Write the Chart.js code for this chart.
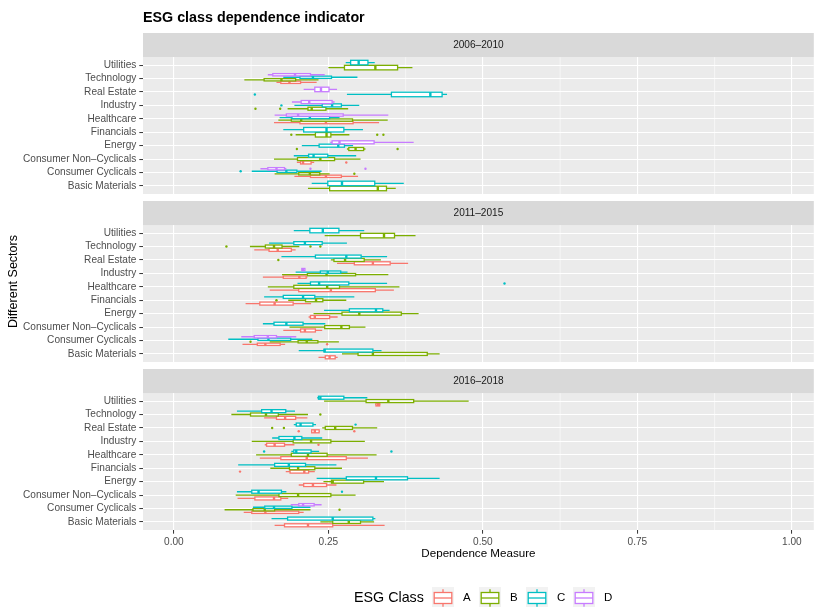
<!DOCTYPE html>
<html>
<head>
<meta charset="utf-8">
<title>ESG class dependence indicator</title>
<script src="https://cdn.jsdelivr.net/npm/chart.js@4.4.1/dist/chart.umd.min.js"></script>
<style>
  html, body { margin: 0; padding: 0; background: #fff; }
  #wrap { width: 815px; height: 607px; }
</style>
</head>
<body>
<div id="wrap"><canvas id="esgChart" width="815" height="607"></canvas></div>
<script>
// categories, bottom to top
const sectors = ['Basic Materials', 'Consumer Cyclicals', 'Consumer Non\u2013Cyclicals', 'Energy', 'Financials',
  'Healthcare', 'Industry', 'Real Estate', 'Technology', 'Utilities'];
const periods = ['2006\u20132010', '2011\u20132015', '2016\u20132018'];
const classes = ['A', 'B', 'C', 'D'];
const classColors = ['#F8766D', '#7CAE00', '#00BFC4', '#C77CFF'];
const xTickValues = [0, 0.25, 0.5, 0.75, 1];
const xMinorValues = [0.125, 0.375, 0.625, 0.875];

// [lower whisker, q1, median, q3, upper whisker] per sector, null = class not present
const p1A = [null, [0.195,0.221,0.246,0.271,0.298], [0.199,0.205,0.209,0.222,0.227], null, null,
  [0.162,0.204,0.246,0.290,0.332], null, null, [0.166,0.173,0.187,0.205,0.231], null];
const p1B = [[0.217,0.252,0.330,0.344,0.359], [0.163,0.202,0.220,0.236,0.252], [0.162,0.200,0.237,0.260,0.302],
  [0.280,0.283,0.294,0.307,0.310], [0.197,0.229,0.247,0.254,0.284], [0.169,0.190,0.206,0.289,0.346],
  [0.184,0.217,0.223,0.246,0.282], null, [0.114,0.146,0.174,0.197,0.234], [0.250,0.276,0.326,0.362,0.386]];
const p1C = [[0.223,0.249,0.272,0.325,0.372], [0.126,0.167,0.182,0.199,0.239], [0.194,0.218,0.226,0.249,0.295],
  [0.207,0.235,0.266,0.276,0.290], [0.177,0.210,0.247,0.275,0.306], [0.171,0.191,0.220,0.252,0.268],
  [0.195,0.240,0.256,0.271,0.300], [0.280,0.352,0.415,0.434,0.442], [0.177,0.204,0.225,0.255,0.297],
  [0.278,0.286,0.299,0.314,0.325]];
const p1D = [null, [0.140,0.152,0.166,0.179,0.182], null, [0.253,0.256,0.268,0.324,0.388], null,
  [0.163,0.182,0.201,0.274,0.347], [0.191,0.206,0.219,0.256,0.260], [0.210,0.228,0.238,0.251,0.264],
  [0.152,0.160,0.196,0.221,0.244], null];

const p2A = [[0.234,0.245,0.252,0.261,0.265], [0.111,0.135,0.148,0.172,0.180], [0.177,0.205,0.212,0.229,0.240],
  [0.218,0.221,0.228,0.252,0.265], [0.116,0.139,0.163,0.193,0.222], [0.155,0.202,0.254,0.326,0.356],
  [0.144,0.177,0.203,0.214,0.216], [0.264,0.292,0.322,0.350,0.379], [0.130,0.154,0.168,0.190,0.197], null];
const p2B = [[0.272,0.298,0.322,0.410,0.430], [0.155,0.201,0.215,0.233,0.267], [0.187,0.244,0.271,0.284,0.310],
  [0.226,0.272,0.300,0.368,0.396], [0.185,0.213,0.230,0.241,0.279], [0.152,0.194,0.248,0.268,0.365],
  [0.175,0.216,0.247,0.294,0.347], [0.254,0.259,0.277,0.308,0.335], [0.123,0.148,0.162,0.175,0.203],
  [0.244,0.302,0.340,0.357,0.391]];
const p2C = [[0.202,0.243,0.244,0.322,0.336], [0.088,0.136,0.153,0.189,0.224], [0.144,0.162,0.182,0.209,0.245],
  [0.243,0.284,0.327,0.338,0.349], [0.146,0.177,0.209,0.228,0.292], [0.200,0.221,0.235,0.283,0.345],
  [0.197,0.237,0.249,0.270,0.281], [0.174,0.229,0.279,0.303,0.345], [0.154,0.194,0.212,0.240,0.280],
  [0.194,0.220,0.241,0.267,0.308]];
const p2D = [null, [0.109,0.130,0.152,0.166,0.198], null, null, null, null,
  [0.207,0.207,0.209,0.212,0.212], null, null, null];

const p3A = [[0.163,0.179,0.217,0.257,0.341], [0.113,0.126,0.148,0.202,0.210], [0.103,0.131,0.162,0.173,0.185],
  [0.202,0.210,0.225,0.247,0.263], [0.181,0.188,0.211,0.218,0.228], [0.139,0.173,0.215,0.279,0.314],
  [0.147,0.150,0.163,0.179,0.195], [0.222,0.223,0.228,0.235,0.236], [0.146,0.166,0.180,0.197,0.216],
  [0.326,0.327,0.330,0.333,0.334]];
const p3B = [[0.237,0.257,0.283,0.302,0.324], [0.082,0.128,0.147,0.163,0.221], [0.100,0.170,0.201,0.254,0.294],
  [0.242,0.255,0.257,0.307,0.340], [0.156,0.187,0.201,0.228,0.272], [0.133,0.190,0.217,0.248,0.328],
  [0.126,0.193,0.222,0.254,0.309], [0.240,0.245,0.261,0.289,0.329], [0.093,0.124,0.149,0.169,0.217],
  [0.243,0.311,0.347,0.388,0.477]];
const p3C = [[0.158,0.184,0.257,0.322,0.326], [0.128,0.147,0.162,0.191,0.221], [0.102,0.126,0.137,0.174,0.182],
  [0.231,0.279,0.327,0.378,0.430], [0.104,0.163,0.186,0.213,0.263], [0.190,0.194,0.198,0.222,0.235],
  [0.159,0.170,0.195,0.207,0.240], [0.194,0.198,0.205,0.225,0.230], [0.102,0.142,0.158,0.181,0.196],
  [0.232,0.234,0.237,0.275,0.313]];
const p3D = [null, [0.189,0.202,0.209,0.227,0.239], null, null, null, null, null, null, null, null];

// outliers: [sector index, value]
const p1Aout = [[2, 0.279]];
const p1Bout = [[1, 0.292], [3, 0.199], [3, 0.362], [4, 0.190], [4, 0.329], [4, 0.339], [6, 0.132], [6, 0.172]];
const p1Cout = [[1, 0.108], [6, 0.174], [7, 0.131]];
const p1Dout = [[1, 0.221], [1, 0.310]];
const p2Aout = [[1, 0.248]];
const p2Bout = [[1, 0.124], [4, 0.166], [7, 0.169], [8, 0.085], [8, 0.221], [8, 0.237]];
const p2Cout = [[5, 0.535]];
const p2Dout = [];
const p3Aout = [[4, 0.107], [6, 0.234], [7, 0.202], [7, 0.292]];
const p3Bout = [[1, 0.268], [7, 0.159], [7, 0.178], [8, 0.237]];
const p3Cout = [[2, 0.272], [5, 0.146], [5, 0.352], [7, 0.294]];
const p3Dout = [];

const stats = [[p1A, p1B, p1C, p1D], [p2A, p2B, p2C, p2D], [p3A, p3B, p3C, p3D]];
const outliers = [[p1Aout, p1Bout, p1Cout, p1Dout], [p2Aout, p2Bout, p2Cout, p2Dout], [p3Aout, p3Bout, p3Cout, p3Dout]];

// facet layout in category units (one unit = one sector row)
const PANEL = 10.2, STRIP = 1.79, GAP = 0.52, DODGE = 0.75;
const TOTAL = 3 * PANEL + 3 * STRIP + 2 * GAP;
const FONT = '"Liberation Sans", Arial, Helvetica, sans-serif';

function panelBase(pi) {
  return (2 - pi) * (PANEL + STRIP + GAP);
}

// dodged position of one box, like position_dodge2 in ggplot
function slot(pi, ci, k) {
  const present = [];
  stats[pi].forEach((arr, c) => { if (arr[k]) present.push(c); });
  const n = present.length;
  const i = present.indexOf(ci);
  const w = DODGE / n;
  return { center: panelBase(pi) + k + 0.6 - DODGE / 2 + (i + 0.5) * w, half: w * 0.9 / 2 };
}

const yTicks = [];
periods.forEach((p, pi) => sectors.forEach((s, k) => yTicks.push({ value: panelBase(pi) + k + 0.6, label: s })));
yTicks.sort((a, b) => a.value - b.value);

const datasets = classes.map((c, ci) => ({
  label: c,
  data: outliers.flatMap((po, pi) => po[ci].map(([k, v]) => ({ x: v, y: slot(pi, ci, k).center }))),
  backgroundColor: classColors[ci],
  borderWidth: 0,
  pointRadius: 1.2,
  pointHoverRadius: 1.2
}));

const facetPlugin = {
  id: 'facets',
  beforeDraw(chart) {
    const { ctx, chartArea: a, scales: { x, y } } = chart;
    ctx.save();
    periods.forEach((p, pi) => {
      const b = panelBase(pi);
      const top = y.getPixelForValue(b + PANEL), bot = y.getPixelForValue(b);
      ctx.fillStyle = '#EBEBEB';
      ctx.fillRect(a.left, top, a.right - a.left, bot - top);
      ctx.strokeStyle = '#FFFFFF';
      ctx.lineWidth = 0.55;
      xMinorValues.forEach(v => {
        const px = x.getPixelForValue(v);
        ctx.beginPath(); ctx.moveTo(px, top); ctx.lineTo(px, bot); ctx.stroke();
      });
    });
    ctx.restore();
  },
  beforeDatasetsDraw(chart) {
    const { ctx, chartArea: a, scales: { x, y } } = chart;
    ctx.save();
    // gaps and strips
    periods.forEach((p, pi) => {
      const b = panelBase(pi);
      const sTop = y.getPixelForValue(b + PANEL + STRIP), sBot = y.getPixelForValue(b + PANEL);
      if (pi > 0) {
        const gTop = y.getPixelForValue(panelBase(pi - 1));
        ctx.fillStyle = '#FFFFFF';
        ctx.fillRect(a.left, gTop, a.right - a.left, sTop - gTop);
      }
      ctx.fillStyle = '#D9D9D9';
      ctx.fillRect(a.left, sTop, a.right - a.left, sBot - sTop);
      ctx.fillStyle = '#1A1A1A';
      ctx.font = '10.1px ' + FONT;
      ctx.textAlign = 'center';
      ctx.textBaseline = 'middle';
      ctx.fillText(p, (a.left + a.right) / 2, (sTop + sBot) / 2 + 0.5);
    });
    // boxplots
    stats.forEach((ps, pi) => ps.forEach((arr, ci) => arr.forEach((s, k) => {
      if (!s) return;
      const { center, half } = slot(pi, ci, k);
      const yc = y.getPixelForValue(center);
      const y0 = y.getPixelForValue(center + half), y1 = y.getPixelForValue(center - half);
      const [lo, q1, md, q3, hi] = s.map(v => x.getPixelForValue(v));
      ctx.strokeStyle = classColors[ci];
      ctx.lineWidth = 1.3;
      ctx.beginPath();
      ctx.moveTo(lo, yc); ctx.lineTo(q1, yc);
      ctx.moveTo(q3, yc); ctx.lineTo(hi, yc);
      ctx.stroke();
      ctx.fillStyle = '#FFFFFF';
      ctx.fillRect(q1, y0, q3 - q1, y1 - y0);
      ctx.strokeRect(q1, y0, q3 - q1, y1 - y0);
      ctx.lineWidth = 2.4;
      ctx.beginPath(); ctx.moveTo(md, y0); ctx.lineTo(md, y1); ctx.stroke();
    })));
    ctx.restore();
  },
  afterDraw(chart) {
    const { ctx, chartArea: a } = chart;
    ctx.save();
    // title
    ctx.fillStyle = '#000000';
    ctx.font = 'bold 14.3px ' + FONT;
    ctx.textAlign = 'left';
    ctx.textBaseline = 'middle';
    ctx.fillText('ESG class dependence indicator', a.left, 18);
    // legend
    const ly = 598;
    ctx.font = '14.3px ' + FONT;
    ctx.fillText('ESG Class', 354, ly);
    classes.forEach((c, ci) => {
      const cx = 443 + ci * 47, ks = 22, top = ly - ks / 2;
      ctx.fillStyle = '#F2F2F2';
      ctx.fillRect(cx - ks / 2, top, ks, ks);
      ctx.strokeStyle = classColors[ci];
      ctx.lineWidth = 1.3;
      ctx.beginPath();
      ctx.moveTo(cx, top + 0.1 * ks); ctx.lineTo(cx, top + 0.25 * ks);
      ctx.moveTo(cx, top + 0.75 * ks); ctx.lineTo(cx, top + 0.9 * ks);
      ctx.stroke();
      const bw = 0.8 * ks;
      ctx.fillStyle = '#FFFFFF';
      ctx.fillRect(cx - bw / 2, top + 0.25 * ks, bw, 0.5 * ks);
      ctx.strokeRect(cx - bw / 2, top + 0.25 * ks, bw, 0.5 * ks);
      ctx.beginPath(); ctx.moveTo(cx - bw / 2, top + 0.5 * ks); ctx.lineTo(cx + bw / 2, top + 0.5 * ks); ctx.stroke();
      ctx.fillStyle = '#000000';
      ctx.font = '11.5px ' + FONT;
      ctx.fillText(c, cx + 20, ly);
    });
    ctx.restore();
  }
};

Chart.defaults.font.family = FONT;

new Chart(document.getElementById('esgChart'), {
  type: 'scatter',
  data: { datasets },
  options: {
    responsive: false,
    animation: false,
    devicePixelRatio: 1,
    layout: { padding: { top: 33, right: 0, bottom: 0, left: 0 } },
    plugins: { legend: { display: false }, tooltip: { enabled: false }, title: { display: false } },
    scales: {
      x: {
        type: 'linear',
        min: -0.05,
        max: 1.0355,
        afterBuildTicks: s => { s.ticks = xTickValues.map(v => ({ value: v })); },
        afterFit: s => { s.height = 77; },
        border: { display: false },
        grid: { color: '#FFFFFF', lineWidth: 1.1, tickColor: '#333333', tickLength: 3.7, tickWidth: 1 },
        ticks: { color: '#4D4D4D', font: { size: 10.1 }, padding: 2, maxRotation: 0,
          callback: v => v.toFixed(2) },
        title: { display: true, text: 'Dependence Measure', color: '#000000', font: { size: 11.6 },
          padding: { top: 0, bottom: 46 } }
      },
      y: {
        type: 'linear',
        min: 0,
        max: TOTAL,
        afterBuildTicks: s => { s.ticks = yTicks.map(t => ({ value: t.value })); },
        afterFit: s => { s.width = 143; },
        border: { display: false },
        grid: { color: '#FFFFFF', lineWidth: 1.1, tickColor: '#333333', tickLength: 3.7, tickWidth: 1 },
        ticks: { color: '#4D4D4D', font: { size: 10.1 }, padding: 3, autoSkip: false,
          callback: (v, i) => yTicks[i].label },
        title: { display: true, text: 'Different Sectors', color: '#000000', font: { size: 12.5 },
          padding: { top: 6.5, bottom: 0 } }
      }
    }
  },
  plugins: [facetPlugin]
});
</script>
</body>
</html>
